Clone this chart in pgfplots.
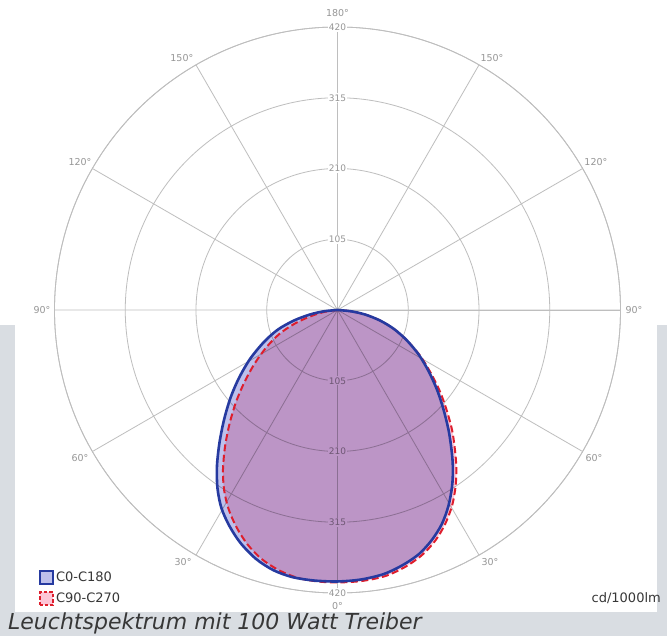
\documentclass[border=0pt]{standalone}
\usepackage{pgfplots}
\pgfplotsset{compat=1.18}
\usepgfplotslibrary{polar}
\usepackage{pgfplotstable}
\usepackage{fontspec}
\setmainfont{DejaVu Sans}
\definecolor{bgray}{RGB}{217,221,226}
\definecolor{gridc}{RGB}{190,190,190}
\definecolor{labc}{RGB}{150,150,150}
\definecolor{blueline}{RGB}{38,58,160}
\definecolor{redline}{RGB}{222,30,45}
\definecolor{bluefill}{RGB}{190,192,235}
\definecolor{redfill}{RGB}{253,198,215}
\definecolor{txtc}{RGB}{55,55,55}
% C0-C180 (polar angle, cd/1000lm); 270 = 0 deg (down)
\pgfplotstableread{
theta r
180 0
185.5 20.1
189.3 41.4
193.6 66.4
198.15 92.9
203.5 119.0
209.25 148.8
214.6 177.6
219.4 205.6
224.1 234.6
228.4 263.9
232.3 292.5
236.0 318.6
239.6 340.6
243.4 358.4
247.4 374.6
251.9 388.8
256.1 397.6
260.3 402.0
265.0 403.0
270 402.9
275.0 401.5
280.0 397.8
284.4 390.7
288.5 381.8
292.3 369.0
296.0 353.4
299.5 334.3
302.9 312.9
305.8 292.9
308.5 273.0
312.4 245.3
316.5 217.8
321.0 191.0
325.9 164.0
331.1 138.2
336.3 112.6
341.4 88.5
346.1 65.0
350.7 41.4
354.5 20.1
360 0
}\bluedata
% C90-C270
\pgfplotstableread{
theta r
180 0
188.4 20.3
193.3 41.9
197.6 66.2
202.2 92.2
207.4 117.8
212.7 145.5
217.75 174.5
222.2 203.3
226.55 233.1
230.6 263.1
234.4 292.0
237.8 315.8
241.3 336.7
245.0 355.2
248.9 372.3
252.9 385.9
257.2 395.7
261.6 402.0
265.9 404.0
270 404.4
275.2 403.8
280.2 401.2
284.7 394.4
288.9 385.1
292.9 372.1
296.6 356.1
300.3 336.9
303.7 315.7
306.6 295.9
309.3 276.3
313.3 248.8
317.2 221.6
321.5 194.3
326.1 166.3
331.1 139.8
336.3 112.6
341.4 88.5
346.1 65.0
350.7 41.4
354.5 20.1
360 0
}\reddata
\tikzset{
  rlab/.style={fill=white, inner sep=1.2pt, text=labc, font=\fontsize{9}{10}\selectfont},
  alab/.style={inner sep=0pt, text=labc, font=\fontsize{9.5}{10}\selectfont},
}
\begin{document}
\begin{tikzpicture}[x=1pt,y=1pt]
\useasboundingbox (0,0) rectangle (667,636);
\fill[white] (0,0) rectangle (667,636);
\fill[bgray] (0,0) rectangle (667,311);
\fill[white] (15,24) rectangle (657,311);
\begin{polaraxis}[
  at={(337.5pt,326pt)}, anchor=center,
  width=566pt, height=566pt, scale only axis,
  ymin=0, ymax=420,
  xtick={0,30,...,330},
  ytick={105,210,315,420},
  xticklabels={}, yticklabels={},
  grid=major,
  major grid style={draw=gridc, line width=0.8pt},
  axis line style={draw=gridc, line width=0.8pt},
  tick style={draw=none},
  clip=false,
  legend entries={C0-C180, C90-C270},
  legend cell align=left,
  legend style={at={(axis description cs:-0.027,0.041)}, anchor=north west,
    draw=none, fill=none, font=\fontsize{13}{15}\selectfont, text=txtc,
    row sep=6pt, inner sep=0pt, nodes={inner sep=2pt}},
]
\addlegendimage{legend image code/.code={\draw[blueline,line width=1.6pt,fill=bluefill] (0pt,-6.5pt) rectangle (13pt,6.5pt);}}
\addlegendimage{legend image code/.code={\draw[redline,line width=1.5pt,dash pattern=on 3.5pt off 2pt,fill=redfill] (0pt,-6.5pt) rectangle (13pt,6.5pt);}}
% radial labels
\node[rlab] at (axis cs:90,105) {105};
\node[rlab] at (axis cs:90,210) {210};
\node[rlab] at (axis cs:90,315) {315};
\node[rlab] at (axis cs:90,420) {420};
\node[rlab] at (axis cs:270,105) {105};
\node[rlab] at (axis cs:270,210) {210};
\node[rlab] at (axis cs:270,315) {315};
\node[rlab] at (axis cs:270,420) {420};
% angle labels
\node[alab] at (axis cs:180,438.5) {90°};
\node[alab] at (axis cs:150.1,440.8) {120°};
\node[alab] at (axis cs:121.7,439.5) {150°};
\node[alab] at (axis cs:90,440.8) {180°};
\node[alab] at (axis cs:58.5,438.7) {150°};
\node[alab] at (axis cs:29.8,442) {120°};
\node[alab] at (axis cs:0,440) {90°};
\node[alab] at (axis cs:330,439.5) {60°};
\node[alab] at (axis cs:301.2,437) {30°};
\node[alab] at (axis cs:270,439.3) {0°};
\node[alab] at (axis cs:238.5,438.6) {30°};
\node[alab] at (axis cs:209.9,440.8) {60°};
% fills
\addplot[forget plot, draw=none, fill=bluefill, blend mode=multiply, smooth] table[x=theta,y=r]{\bluedata};
\addplot[forget plot, draw=none, fill=redfill, blend mode=multiply, smooth] table[x=theta,y=r]{\reddata};
% outlines
\addplot[forget plot, redline, line width=2pt, dash pattern=on 7pt off 3.5pt, smooth] table[x=theta,y=r]{\reddata};
\addplot[forget plot, blueline, line width=2.6pt, smooth] table[x=theta,y=r]{\bluedata};
\end{polaraxis}
\node[anchor=base east, font=\fontsize{13}{15}\selectfont, text=txtc, inner sep=0pt] at (661pt,33pt) {cd/1000lm};
\node[anchor=base west, font=\fontsize{22}{25}\selectfont\itshape, text=txtc, inner sep=0pt] at (8pt,6pt) {Leuchtspektrum mit 100 Watt Treiber};
\end{tikzpicture}
\end{document}
